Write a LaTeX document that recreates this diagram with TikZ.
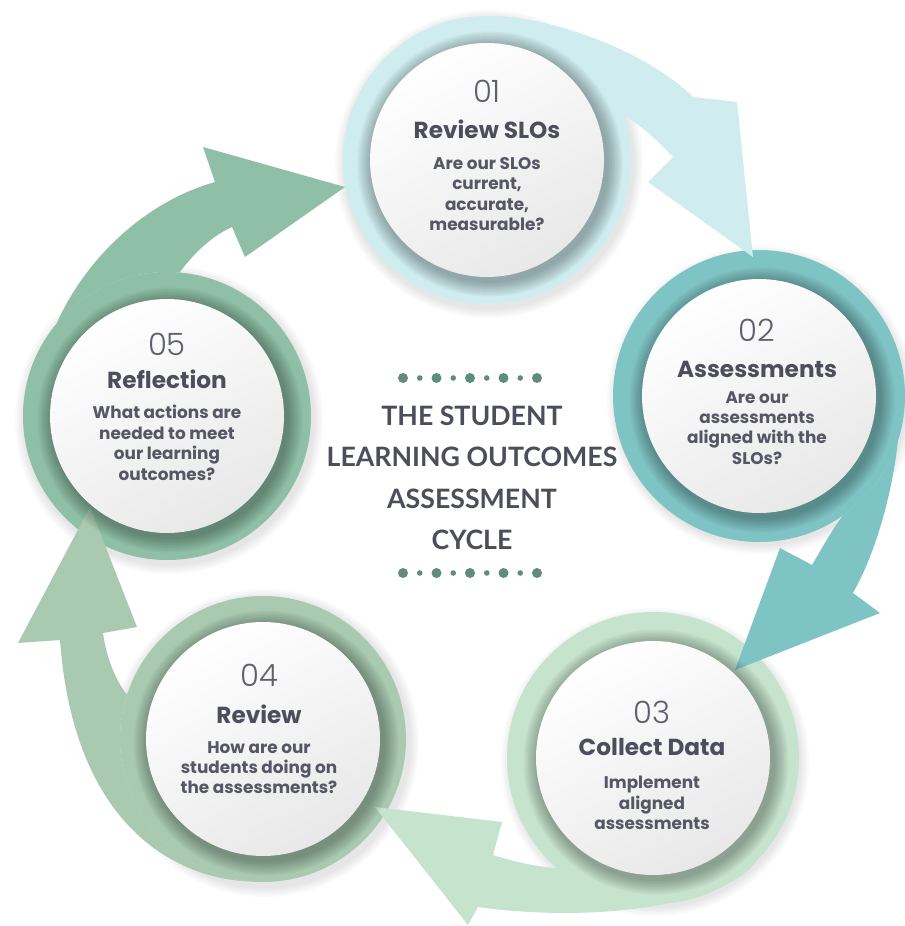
\documentclass[tikz,border=0pt]{standalone}
\usepackage{fontspec}
\setmainfont{Poppins}
\newfontfamily\numfont{Poppins}[UprightFont={* Light}]
\newfontfamily\titlefont{Lato}
\usetikzlibrary{positioning}

\definecolor{ringcyan}{RGB}{207,236,238}
\definecolor{ringteal}{RGB}{127,196,197}
\definecolor{ringmint}{RGB}{198,227,205}
\definecolor{ringsage}{RGB}{169,202,177}
\definecolor{ringgreen}{RGB}{143,191,166}
\definecolor{slate}{RGB}{76,78,92}
\definecolor{dotgreen}{RGB}{96,140,122}

\tikzset{
  stage/.style={circle, minimum size=4.68cm, inner sep=0pt,
    top color=white, bottom color=black!9, shading angle=30},
  numtext/.style={anchor=base, inner sep=0pt, text=slate!90,
    font=\numfont\fontsize{17.5}{17.5}\selectfont},
  headtext/.style={anchor=base, inner sep=0pt, text=slate,
    font=\bfseries\fontsize{13.2}{15}\selectfont},
  desctext/.style={anchor=north, inner sep=0pt, text=slate!95, align=center,
    font=\bfseries\fontsize{9.6}{11.6}\selectfont},
  titletext/.style={inner sep=0pt, text=slate, align=center,
    font=\titlefont\bfseries\fontsize{15.2}{23.6}\selectfont}
}

\begin{document}
\begin{tikzpicture}[x=0.02cm, y=-0.02cm]

% Canvas
\useasboundingbox (0,0) rectangle (904,926);
\fill[white] (0,0) rectangle (904,926);

% Stage centres
\coordinate (c1) at (487,160);
\coordinate (c2) at (759,396);
\coordinate (c3) at (653,758);
\coordinate (c4) at (263,739);
\coordinate (c5) at (167,416);

% Soft shadow under the rings
\foreach \c in {c1,c2,c3,c4,c5}
  \foreach \r in {146,148,150,152,154}
    \fill[black, opacity=0.018] ([shift={(2,4)}]\c) circle[radius=\r];

% Rings
\fill[ringcyan]  (c1) circle[radius=144];
\fill[ringteal]  (c2) circle[radius=146];
\fill[ringmint]  (c3) circle[radius=146];
\fill[ringsage]  (c4) circle[radius=143];
\fill[ringgreen] (c5) circle[radius=144];

% Flow arrows (01 -> 02 -> 03 -> 04 -> 05 -> 01)
\fill[ringcyan] ([shift={(-95:144)}]c1) .. controls (530,10) and (640,45) .. (693,97)
  -- (737,102) -- (753,257) -- (648,182) -- (673,157)
  .. controls (657,140) and (642,126) .. ([shift={(-18:144)}]c1)
  arc[start angle=-18, end angle=-95, radius=144] -- cycle;
\fill[ringteal] ([shift={(18:146)}]c2) .. controls (894,480) and (880,545) .. (853,593)
  -- (880,613) -- (735,670) -- (780,548) -- (812,565)
  .. controls (822,548) and (832,530) .. ([shift={(55:146)}]c2)
  arc[start angle=55, end angle=18, radius=146] -- cycle;
\fill[ringmint] ([shift={(45:146)}]c3) .. controls (730,900) and (610,925) .. (478,907)
  -- (468,925) -- (375,807) -- (502,822) -- (493,855)
  .. controls (515,862) and (538,867) .. ([shift={(131:146)}]c3)
  arc[start angle=131, end angle=45, radius=146] -- cycle;
\fill[ringsage] ([shift={(95:143)}]c4) .. controls (190,880) and (75,840) .. (60,640)
  -- (18,643) -- (90,507) -- (137,627) -- (103,633)
  .. controls (106,655) and (114,678) .. ([shift={(198:143)}]c4)
  arc[start angle=198, end angle=95, radius=143] -- cycle;
\fill[ringgreen] ([shift={(-140:144)}]c5) .. controls (80,270) and (135,205) .. (215,182)
  -- (203,147) -- (345,187) -- (245,257) -- (232,227)
  .. controls (212,236) and (195,252) .. ([shift={(-85:144)}]c5)
  arc[start angle=-85, end angle=-140, radius=144] -- cycle;

% Shadow cast by the discs
\foreach \c in {c1,c2,c3,c4,c5}
  \foreach \r in {119,120.5,122,123.5,125,126.5,128,129.5,131,132.5}
    \fill[black, opacity=0.03] ([shift={(3,4)}]\c) circle[radius=\r];

% Discs
\node[stage] (s1) at (c1) {};
\node[stage] (s2) at (c2) {};
\node[stage] (s3) at (c3) {};
\node[stage] (s4) at (c4) {};
\node[stage] (s5) at (c5) {};

% Stage 01
\node[numtext]  (n1) at (487,103) {01};
\node[headtext] (h1) at (487,138) {Review SLOs};
\node[desctext] (d1) at (487,157) {Are our SLOs\\current,\\accurate,\\measurable?};

% Stage 02
\node[numtext]  (n2) at (757,341) {02};
\node[headtext] (h2) at (757,377) {Assessments};
\node[desctext] (d2) at (757,391) {Are our\\assessments\\aligned with the\\SLOs?};

% Stage 03
\node[numtext]  (n3) at (652,723) {03};
\node[headtext] (h3) at (652,755) {Collect Data};
\node[desctext] (d3) at (652,776) {Implement\\aligned\\assessments};

% Stage 04
\node[numtext]  (n4) at (259,686) {04};
\node[headtext] (h4) at (259,723) {Review};
\node[desctext] (d4) at (259,741) {How are our\\students doing on\\the assessments?};

% Stage 05
\node[numtext]  (n5) at (167,355) {05};
\node[headtext] (h5) at (167,388) {Reflection};
\node[desctext] (d5) at (167,405) {What actions are\\needed to meet\\our learning\\outcomes?};

% Title with dotted rules
\node[titletext] (title) at (472,478) {THE STUDENT\\LEARNING OUTCOMES\\ASSESSMENT\\CYCLE};
\foreach \y in {378,573} {
  \foreach \i in {0,...,4} \fill[dotgreen] (403+33.5*\i,\y) circle[radius=5];
  \foreach \i in {0,...,3} \fill[dotgreen] (419.75+33.5*\i,\y) circle[radius=2.8];
}

\end{tikzpicture}
\end{document}
